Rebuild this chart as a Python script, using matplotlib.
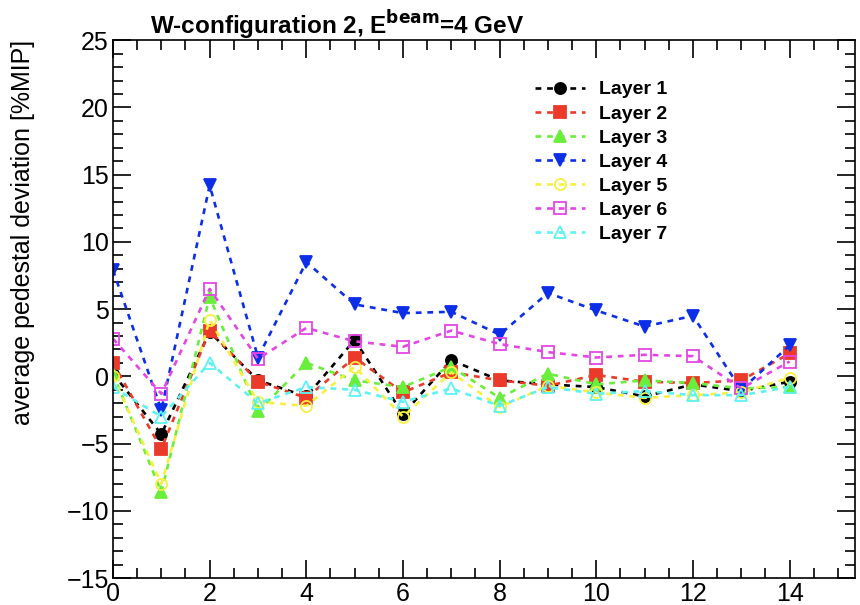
import matplotlib.pyplot as plt
from matplotlib.ticker import MultipleLocator

plt.rcParams['font.family'] = ['Liberation Sans', 'DejaVu Sans']

# channel index and pedestal deviation per layer
channel = list(range(15))
layer1 = [0.2, -4.3, 3.3, -0.3, -1.5, 2.7, -2.8, 1.2, -0.3, -0.6, -0.8, -1.5, -0.6, -1.1, -0.4]
layer2 = [1.0, -5.4, 3.4, -0.4, -1.6, 1.4, -1.2, 0.3, -0.3, -0.7, 0.1, -0.4, -0.5, -0.3, 1.7]
layer3 = [0.2, -8.6, 5.9, -2.6, 1.0, -0.3, -0.8, 0.7, -1.6, 0.2, -0.6, -0.3, -0.5, -0.9, -0.8]
layer4 = [7.9, -2.5, 14.2, 1.4, 8.5, 5.35, 4.7, 4.8, 3.1, 6.2, 4.9, 3.7, 4.5, -1.0, 2.3]
layer5 = [0.0, -8.0, 4.2, -1.9, -2.2, 0.7, -3.0, 0.3, -2.3, -0.7, -1.2, -1.6, -1.4, -1.2, -0.1]
layer6 = [2.8, -1.3, 6.5, 1.3, 3.6, 2.6, 2.2, 3.4, 2.4, 1.8, 1.4, 1.6, 1.5, -0.9, 1.1]
layer7 = [-0.8, -3.0, 1.0, -2.0, -0.8, -1.0, -1.9, -0.9, -2.2, -0.8, -1.3, -1.1, -1.4, -1.4, -0.8]

layers = [layer1, layer2, layer3, layer4, layer5, layer6, layer7]
names = ['Layer 1', 'Layer 2', 'Layer 3', 'Layer 4', 'Layer 5', 'Layer 6', 'Layer 7']
colors = ['black', '#ec3a2a', '#6aee3c', '#0c2ee6', '#f6f040', '#e446e4', '#5ef2f2']
markers = ['o', 's', '^', 'v', 'o', 's', '^']
filled = [True, True, True, True, False, False, False]

fig = plt.figure(figsize=(8.6, 6.05), dpi=100)
ax = fig.add_axes([0.1314, 0.0446, 0.8626, 0.889])

for y, name, c, m, f in zip(layers, names, colors, markers, filled):
    ax.plot(channel, y, color=c, linestyle=(0, (2.2, 2.2)), linewidth=1.9,
            marker=m, markersize=8, markerfacecolor=c if f else 'none',
            markeredgecolor=c, markeredgewidth=1.3, label=name)

ax.set_xlim(0, 15.35)
ax.set_ylim(-15, 25)
ax.xaxis.set_major_locator(MultipleLocator(2))
ax.xaxis.set_minor_locator(MultipleLocator(0.5))
ax.yaxis.set_major_locator(MultipleLocator(5))
ax.yaxis.set_minor_locator(MultipleLocator(1))
ax.tick_params(which='both', direction='in', top=True, right=True, width=1.2)
ax.tick_params(which='major', length=13, labelsize=18, pad=3)
ax.tick_params(which='minor', length=7)
for s in ax.spines.values():
    s.set_linewidth(1.2)

ax.set_ylabel('average pedestal deviation [%MIP]', fontsize=18, loc='top')
ax.yaxis.set_label_coords(-0.105, 1.0)
fig.text(0.175, 0.958, r'W-configuration 2, E$^{\mathbf{beam}}$=4 GeV',
         fontsize=17.5, fontweight='bold', ha='left', va='center')

leg = ax.legend(loc='upper left', bbox_to_anchor=(0.545, 0.957), frameon=False,
                prop={'weight': 'bold', 'size': 14}, handlelength=2.6,
                labelspacing=0.335, handletextpad=0.7)

fig.savefig('out.png', dpi=100)
